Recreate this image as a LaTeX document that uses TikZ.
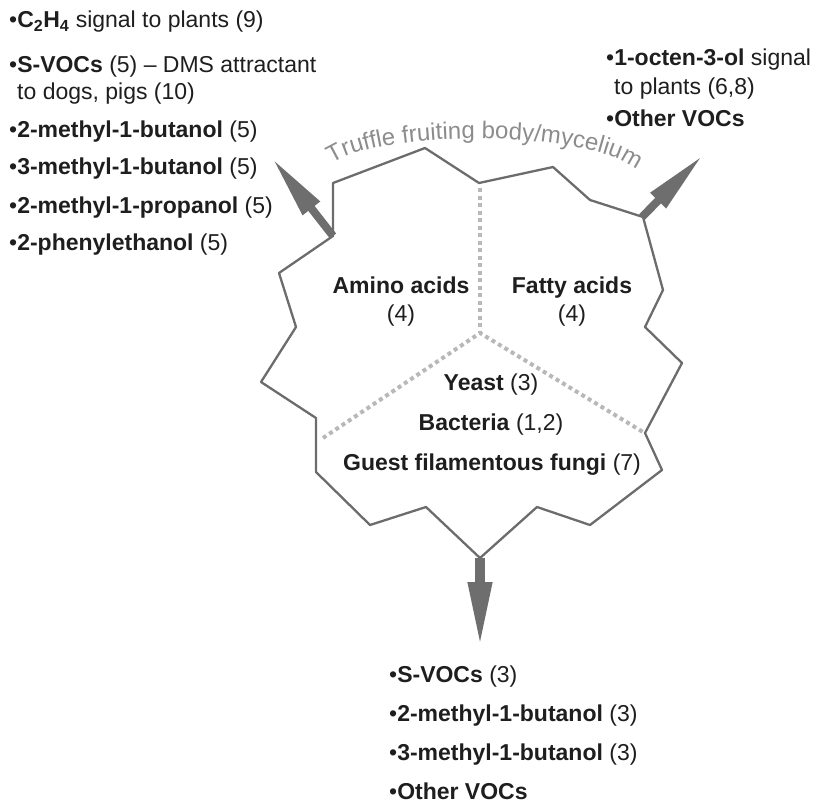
\documentclass[tikz,border=0pt]{standalone}
\usepackage{fontspec}
\setmainfont{Liberation Sans}
\usetikzlibrary{arrows.meta,decorations.text}
\definecolor{ink}{HTML}{1E1E1E}
\definecolor{rimgray}{HTML}{6C6C6C}
\definecolor{shaftgray}{HTML}{6E6E6E}
\definecolor{dotgray}{HTML}{B8B8B8}
\definecolor{capgray}{HTML}{8C8C8C}
\tikzset{
  voc/.style={anchor=base west,inner sep=0pt,text=ink,font=\fontsize{23}{28}\selectfont},
  pool/.style={anchor=base,inner sep=0pt,text=ink,font=\fontsize{23}{28}\selectfont},
  rim/.style={draw=rimgray,line width=2.3pt,line join=round},
  split/.style={draw=dotgray,line width=4pt,dash pattern=on 4pt off 3.5pt},
  emit/.style={draw=shaftgray,line width=8pt,-{Triangle[length=64pt,width=20pt]}},
}
\begin{document}
\begin{tikzpicture}[x=1pt,y=-1pt]
\useasboundingbox (0,0) rectangle (818,805);
% truffle outline
\draw[rim] (333,236) -- (333,183) -- (425,148) -- (479,183) -- (553,167) -- (590,200)
  -- (643,217) -- (663,290) -- (645,327) -- (682,363) -- (645,433) -- (662,470)
  -- (590,525) -- (537,507) -- (480,558) -- (426,507) -- (370,525) -- (316,472)
  -- (316,418) -- (261,382) -- (296,327) -- (279,273) -- cycle;
\path[decorate,decoration={text along path,text align=center,text color=capgray,
  text={|\fontsize{24}{28}\selectfont|Truffle fruiting body/mycelium}}]
  (327,168) .. controls (366,128) and (600,128) .. (641,174);
% compartments
\coordinate (top) at (480,188);
\coordinate (hub) at (480,333);
\coordinate (sl) at (323,438);
\coordinate (sr) at (643,432);
\draw[split] (top) -- (hub);
\draw[split] (sl) -- (hub) -- (sr);
\node[pool] (amino) at (401,293) {\textbf{Amino acids}};
\node[pool] (aminon) at (401,321) {(4)};
\node[pool] (fatty) at (572,293) {\textbf{Fatty acids}};
\node[pool] (fattyn) at (572,321) {(4)};
\node[pool] (yeast) at (491,390) {\textbf{Yeast} (3)};
\node[pool] (bact) at (491,430) {\textbf{Bacteria} (1,2)};
\node[pool] (guest) at (492,470) {\textbf{Guest filamentous fungi} (7)};
% emission arrows
\coordinate (lbase) at (333,236);
\coordinate (ltip) at (272,158);
\coordinate (rbase) at (642,217);
\coordinate (rtip) at (703,155);
\coordinate (bbase) at (480,558);
\coordinate (btip) at (480,648);
\draw[emit] (lbase) -- (ltip);
\draw[emit] (rbase) -- (rtip);
\draw[emit,line width=10pt,-{Triangle[length=66pt,width=22pt]}] (bbase) -- (btip);
% upper left volatiles
\node[voc] (c2h4) at (9,28) {•\textbf{C\textsubscript{2}H\textsubscript{4}} signal to plants (9)};
\node[voc] (svoc) at (9,73) {•\textbf{S-VOCs} (5) – DMS attractant};
\node[voc] (svocb) at (17,100) {to dogs, pigs (10)};
\node[voc] (mba) at (9,138) {•\textbf{2-methyl-1-butanol} (5)};
\node[voc] (mbb) at (9,175) {•\textbf{3-methyl-1-butanol} (5)};
\node[voc] (mpr) at (9,213) {•\textbf{2-methyl-1-propanol} (5)};
\node[voc] (phe) at (9,250) {•\textbf{2-phenylethanol} (5)};
% upper right volatiles
\node[voc] (octen) at (606,66) {•\textbf{1-octen-3-ol} signal};
\node[voc] (octenb) at (614,95) {to plants (6,8)};
\node[voc] (othert) at (606,127) {•\textbf{Other VOCs}};
% lower volatiles
\node[voc] (svocd) at (389,682) {•\textbf{S-VOCs} (3)};
\node[voc] (mbad) at (389,721) {•\textbf{2-methyl-1-butanol} (3)};
\node[voc] (mbbd) at (389,760) {•\textbf{3-methyl-1-butanol} (3)};
\node[voc] (otherd) at (389,799) {•\textbf{Other VOCs}};
\end{tikzpicture}
\end{document}
